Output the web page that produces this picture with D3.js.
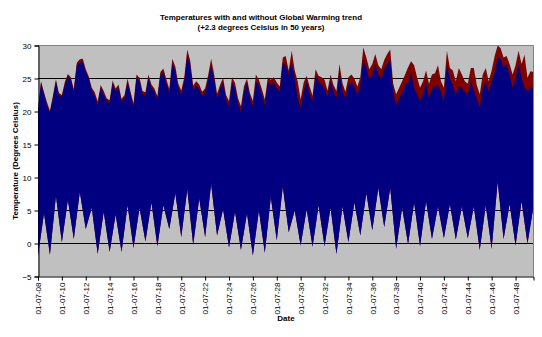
<!DOCTYPE html>
<html><head><meta charset="utf-8">
<script src="https://cdn.jsdelivr.net/npm/d3@7"></script>
<style>
html,body{margin:0;padding:0;background:#fff;}
svg{display:block;font-family:"Liberation Sans",Arial,sans-serif;}
</style></head>
<body><svg id="c" width="542" height="337"></svg>
<script>
// ---- data ----
const startDate = new Date(1908, 6, 1);   // 01-07-08
const endDate = new Date(1950, 0, 1);
// quarterly upper envelope, without trend (blue), 1 Jul 1908 .. 1 Jan 1950
const blueHigh = [
20.0,24.4,22.6,21.0,19.8,22.0,24.6,22.4,22.2,24.0,25.4,24.8,23.0,27.0,27.4,27.6,26.0,25.0,23.2,22.4,21.0,23.6,22.6,21.6,21.2,24.3,23.0,23.6,21.5,22.0,24.5,22.6,20.6,25.2,24.6,22.6,22.4,25.0,23.6,23.0,21.8,25.5,
26.0,24.2,22.8,27.2,26.2,23.6,22.6,24.5,28.6,27.0,23.2,24.0,23.4,22.4,22.8,24.8,27.0,25.0,22.0,23.4,24.4,21.8,20.8,24.4,23.6,21.2,20.0,23.0,24.4,22.0,20.8,24.6,24.0,22.6,21.0,24.4,24.0,24.4,23.6,23.0,27.4,27.0,
25.6,27.6,25.0,22.0,20.6,23.0,24.6,22.6,21.6,25.4,24.6,24.0,23.6,22.2,24.6,23.0,22.0,26.2,23.0,22.0,24.0,24.4,23.8,22.6,24.0,28.0,26.6,25.0,25.6,27.2,25.6,25.0,26.4,27.2,28.0,23.0,21.0,22.0,22.8,24.0,24.4,
25.8,23.6,22.6,21.6,22.8,24.6,22.0,23.6,23.8,24.0,23.0,21.6,27.2,25.0,24.0,22.6,23.8,23.6,23.0,22.6,24.6,23.2,22.0,20.6,23.6,24.6,23.0,24.6,26.0,28.2,28.0,26.7,27.2,25.6,23.6,25.0,27.2,25.1,23.6,23.1,23.6,23.6];
// quarterly upper envelope, with warming trend (red)
const redHigh = [
20.3,24.6,22.9,21.4,20.1,22.4,24.9,22.8,22.5,24.5,25.7,25.2,23.4,27.4,27.9,28.0,26.4,25.3,23.6,22.9,21.5,24.0,23.1,22.0,21.7,24.7,23.5,24.1,21.9,22.5,25.0,23.0,21.2,25.6,25.1,23.1,22.9,25.6,24.1,23.5,22.3,26.0,
26.5,24.9,23.4,28.0,26.8,24.2,23.2,25.2,29.4,27.7,23.9,24.6,24.1,23.0,23.5,25.5,28.0,25.7,22.7,24.0,25.1,22.5,21.6,25.2,24.3,22.0,20.8,23.8,25.0,22.8,21.6,25.6,24.8,23.4,21.8,25.2,24.8,25.2,24.4,23.8,28.2,28.4,
26.2,29.2,26.2,24.6,21.8,24.4,25.4,23.8,22.4,26.4,25.4,25.2,24.8,23.2,25.6,24.0,23.1,27.2,24.3,23.0,25.2,25.6,25.0,23.8,25.2,29.7,28.2,26.4,27.2,28.7,27.0,26.4,27.8,28.7,29.4,24.2,22.6,23.6,24.6,25.6,26.7,
27.6,27.0,25.2,23.6,24.6,26.2,24.2,25.6,25.8,27.0,24.6,23.6,29.2,26.6,26.2,24.6,26.6,25.6,24.6,24.2,26.6,26.6,24.0,22.6,25.6,26.6,24.6,26.2,28.4,30.0,29.6,28.2,28.4,27.2,25.6,27.0,29.2,27.2,28.6,25.1,26.1,26.0];
// half-yearly lower envelope (July winter dips / January summer lows)
const lowEnv = [
-1.8,4.6,-1.7,7.2,0.2,6.6,0.7,7.8,2.2,5.4,-1.6,4.8,-1.3,4.4,-1.3,5.8,-0.7,5.4,0.3,6.2,
-0.4,5.8,2.2,7.6,1.0,8.2,-0.2,6.8,1.0,9.0,1.2,5.2,-0.6,4.8,-1.0,4.6,-1.8,5.0,-1.4,7.0,
0.5,8.6,1.7,5.0,-0.3,5.2,-0.5,5.8,-0.4,5.4,-1.6,5.6,0.2,6.2,1.2,7.6,2.0,8.4,2.5,8.4,
-0.8,5.4,-0.1,6.2,-0.4,6.4,0.7,5.6,0.8,6.0,0.6,5.6,0.8,5.6,-1.0,5.8,-0.8,9.4,0.7,6.0,
-0.3,6.4,0.0,5.6];
const yTicks = [-5,0,5,10,15,20,25,30];
const xTickLabels = ["01-07-08","01-07-10","01-07-12","01-07-14","01-07-16","01-07-18","01-07-20","01-07-22","01-07-24","01-07-26","01-07-28","01-07-30","01-07-32","01-07-34","01-07-36","01-07-38","01-07-40","01-07-42","01-07-44","01-07-46","01-07-48"];
const titleLines = ["Temperatures with and without Global Warming trend","(+2.3 degrees Celsius in 50 years)"];

// ---- drawing ----
const svg = d3.select("#c");
const L = 38, R = 533.5, T = 45.5, B = 276.5;
const x = d3.scaleTime().domain([startDate, endDate]).range([L, R]);
const y = d3.scaleLinear().domain([-5, 30]).range([B, T]);

svg.append("rect").attr("x", L).attr("y", T).attr("width", R - L).attr("height", B - T)
  .attr("fill", "#c0c0c0");

// gridlines
svg.append("g").selectAll("line").data(yTicks.filter(v => v > -5 && v < 30)).join("line")
  .attr("x1", L).attr("x2", R).attr("y1", d => y(d)).attr("y2", d => y(d))
  .attr("stroke", "#000").attr("stroke-width", 1);

const q = blueHigh.map((v, i) => d3.timeMonth.offset(startDate, 3 * i));
const h = lowEnv.map((v, i) => d3.timeMonth.offset(startDate, 6 * i));
const lowerPts = lowEnv.map((v, i) => [h[i], v]).reverse();
const line = d3.line().x(d => x(d[0])).y(d => y(d[1]));

svg.append("clipPath").attr("id", "pc").append("rect")
  .attr("x", L).attr("y", T).attr("width", R - L).attr("height", B - T);
const g = svg.append("g").attr("clip-path", "url(#pc)");
g.append("path").attr("d", line(redHigh.map((v, i) => [q[i], v]).concat(lowerPts)) + "Z")
  .attr("fill", "#800000");
g.append("path").attr("d", line(blueHigh.map((v, i) => [q[i], v]).concat(lowerPts)) + "Z")
  .attr("fill", "#000080");

// frame
svg.append("line").attr("x1", L).attr("x2", R).attr("y1", T).attr("y2", T).attr("stroke", "#808080");
svg.append("line").attr("x1", R).attr("x2", R).attr("y1", T).attr("y2", B).attr("stroke", "#808080");

// y axis
const ya = svg.append("g").attr("transform", `translate(${L + 0.5},0)`)
  .call(d3.axisLeft(y).tickValues(yTicks).tickSize(4).tickPadding(3).tickFormat(d3.format("d")));
ya.select(".domain").attr("stroke", "#000");
ya.selectAll(".tick line").attr("stroke", "#000");
ya.selectAll("text").attr("font-size", 8).attr("font-family", "Liberation Sans, Arial, sans-serif").attr("fill", "#000");

// x axis
const xTickDates = xTickLabels.map(s => { const p = s.split("-"); return new Date(1900 + (+p[2]), +p[1] - 1, +p[0]); });
const xa = svg.append("g").attr("transform", `translate(0,${B})`)
  .call(d3.axisBottom(x).tickValues(xTickDates).tickSize(4).tickFormat((d, i) => xTickLabels[i]));
xa.select(".domain").attr("stroke", "#000");
xa.selectAll(".tick line").attr("stroke", "#000");
xa.selectAll("text").attr("font-size", 8).attr("font-family", "Liberation Sans, Arial, sans-serif").attr("fill", "#000")
  .attr("transform", "rotate(-90)").attr("text-anchor", "end").attr("x", -6).attr("y", 0).attr("dy", "0.35em");

// titles
const titleWidths = [202, 127];
svg.append("g").selectAll("text").data(titleLines).join("text")
  .attr("x", 261).attr("y", (d, i) => 20 + i * 10).attr("text-anchor", "middle")
  .attr("font-size", 8).attr("font-weight", "bold")
  .attr("textLength", (d, i) => titleWidths[i]).attr("lengthAdjust", "spacingAndGlyphs").text(d => d);
svg.append("text").attr("transform", "translate(18,161) rotate(-90)").attr("text-anchor", "middle")
  .attr("font-size", 8).attr("font-weight", "bold").text("Temperature (Degrees Celsius)");
svg.append("text").attr("x", 286).attr("y", 321).attr("text-anchor", "middle")
  .attr("font-size", 8).attr("font-weight", "bold").text("Date");
</script></body></html>
